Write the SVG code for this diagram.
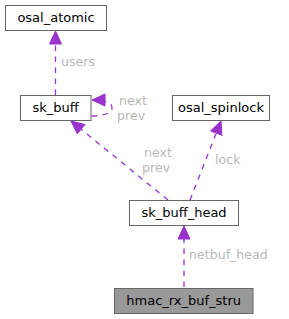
<svg xmlns="http://www.w3.org/2000/svg" width="289" height="319" viewBox="0 0 289 319">
<defs>
<style>
.node rect{fill:#ffffff;stroke:#666666;stroke-width:1}
.node text{font-family:"DejaVu Sans",sans-serif;font-size:13px;fill:#000000;text-anchor:middle}
.edge{fill:none;stroke:#9a32cd;stroke-width:1.3;stroke-dasharray:5.5,5.5}
.lbl{font-family:"DejaVu Sans",sans-serif;font-size:12.6px;fill:#b8b8b8}
</style>
<marker id="ah" markerWidth="14" markerHeight="14" viewBox="0 0 14 14" refX="13.5" refY="7" orient="auto" markerUnits="userSpaceOnUse">
<path d="M0.5,1 L13.5,7 L0.5,13 Z" fill="#9a32cd" stroke="#9a32cd"/>
</marker>
</defs>
<rect width="289" height="319" fill="#ffffff"/>
<g id="connectors">
<path class="edge" d="M55.5,95 L55.5,31" marker-end="url(#ah)"/>
<path class="edge" d="M91.5,116 C101,116 112,114 112,108 C112,102 105,100 92,100" marker-end="url(#ah)"/>
<path class="edge" d="M168,200 L71,121" marker-end="url(#ah)"/>
<path class="edge" d="M190,200 L221,121" marker-end="url(#ah)"/>
<path class="edge" d="M184,287 L184,226" marker-end="url(#ah)"/>
<text class="lbl" x="61" y="66">users</text>
<text class="lbl" x="119" y="105">next</text>
<text class="lbl" x="117" y="120">prev</text>
<text class="lbl" x="144" y="157">next</text>
<text class="lbl" x="142" y="172">prev</text>
<text class="lbl" x="215" y="164">lock</text>
<text class="lbl" x="189" y="259">netbuf_head</text>
</g>
<g id="osal_atomic" class="node"><rect x="5.5" y="5.5" width="101" height="25"/><text x="56" y="22">osal_atomic</text></g>
<g id="sk_buff" class="node"><rect x="20.5" y="95.5" width="70.5" height="25"/><text x="55.7" y="112">sk_buff</text></g>
<g id="osal_spinlock" class="node"><rect x="172.5" y="95.5" width="97" height="25"/><text x="221" y="112">osal_spinlock</text></g>
<g id="sk_buff_head" class="node"><rect x="129.5" y="200.5" width="109" height="25"/><text x="184" y="217">sk_buff_head</text></g>
<g id="hmac_rx_buf_stru" class="node"><rect x="114.5" y="288.5" width="138.5" height="25" style="fill:#999999"/><text x="183.7" y="305">hmac_rx_buf_stru</text></g>
</svg>
